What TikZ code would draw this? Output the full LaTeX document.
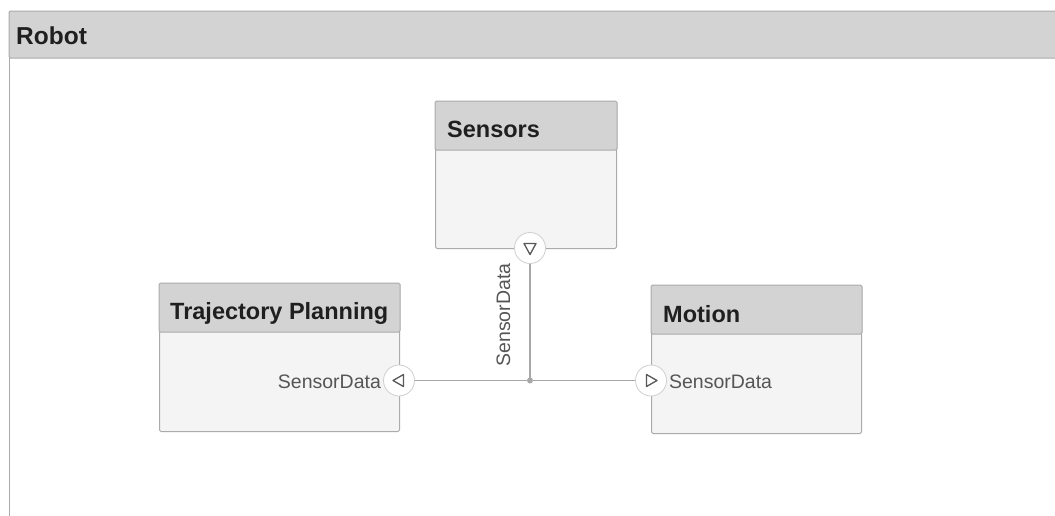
\documentclass[tikz,border=0pt]{standalone}
\usepackage{fontspec}
\setmainfont{Liberation Sans}
\usetikzlibrary{positioning}
\definecolor{hdrgray}{HTML}{D3D3D3}
\definecolor{edgegray}{HTML}{ABABAB}
\definecolor{bodygray}{HTML}{F4F4F4}
\definecolor{wiregray}{HTML}{A8A8A8}
\definecolor{portgray}{HTML}{CFCFCF}
\definecolor{labelgray}{HTML}{555555}
\tikzset{
  comp/.style={draw=edgegray,fill=bodygray,line width=1pt,rounded corners=1.5pt,inner sep=0pt,anchor=north west},
  hdr/.style={draw=edgegray,fill=hdrgray,line width=1pt,rounded corners=1.5pt},
  title/.style={font=\fontsize{23.5}{28}\selectfont\bfseries,text=black!88,inner sep=0pt,anchor=base west},
  port/.style={circle,draw=portgray,fill=white,line width=0.8pt,minimum size=31pt,inner sep=0pt},
  tri/.style={draw=black!65,line width=1.3pt,line join=round},
  wire/.style={draw=wiregray,line width=1.2pt},
  plabel/.style={font=\fontsize{19.5}{23}\selectfont,text=labelgray,inner sep=0pt},
}
\begin{document}
\begin{tikzpicture}[x=1pt,y=-1pt]
  \useasboundingbox[fill=white] (0,0) rectangle (1055,515);
  \clip (0,0) rectangle (1055,515);

  % outer architecture
  \draw[draw=edgegray,fill=white,line width=1pt] (9,11) rectangle (1070,530);
  \draw[hdr] (9,11) rectangle (1070,58);
  \node[title,font=\fontsize{24.5}{29}\selectfont\bfseries] (robot) at (16,44) {Robot};

  % components
  \node[comp,minimum width=181pt,minimum height=147pt] (sensors) at (435,101) {};
  \node[comp,minimum width=240pt,minimum height=148pt] (traj) at (159,283) {};
  \node[comp,minimum width=210pt,minimum height=148pt] (motion) at (651,285) {};
  \draw[hdr] (sensors.north west) rectangle ([yshift=-49pt]sensors.north east);
  \draw[hdr] (traj.north west) rectangle ([yshift=-49pt]traj.north east);
  \draw[hdr] (motion.north west) rectangle ([yshift=-49pt]motion.north east);
  \node[title] (sensors-t) at ([xshift=12pt,yshift=-36pt]sensors.north west) {Sensors};
  \node[title] (traj-t) at ([xshift=11pt,yshift=-36pt]traj.north west) {Trajectory Planning};
  \node[title] (motion-t) at ([xshift=12pt,yshift=-37pt]motion.north west) {Motion};

  % ports
  \node[port] (sensors-out) at (530,248) {};
  \node[port] (traj-in) at (399,380.5) {};
  \node[port] (motion-in) at (651,380.5) {};
  \draw[tri] ([shift={(-6,-4.5)}]sensors-out.center) -- ++(12,0) -- ++(-6,11) -- cycle;
  \draw[tri] ([shift={(4.5,-6)}]traj-in.center) -- ++(0,12) -- ++(-10.5,-6) -- cycle;
  \draw[tri] ([shift={(-4.5,-6)}]motion-in.center) -- ++(0,12) -- ++(10.5,-6) -- cycle;
  \node[plabel,anchor=base east] (traj-l) at ([xshift=-2pt,yshift=-7.5pt]traj-in.west) {SensorData};
  \node[plabel,anchor=base west] (motion-l) at ([xshift=2pt,yshift=-7.5pt]motion-in.east) {SensorData};

  % connections
  \coordinate (junc) at (sensors-out |- traj-in);
  \draw[wire] (sensors-out) -- (junc);
  \draw[wire] (traj-in) -- (motion-in);
  \fill[wiregray] (junc) circle (3pt);
  \node[plabel,rotate=90,anchor=base] (wire-l) at (510,315) {SensorData};
\end{tikzpicture}
\end{document}
